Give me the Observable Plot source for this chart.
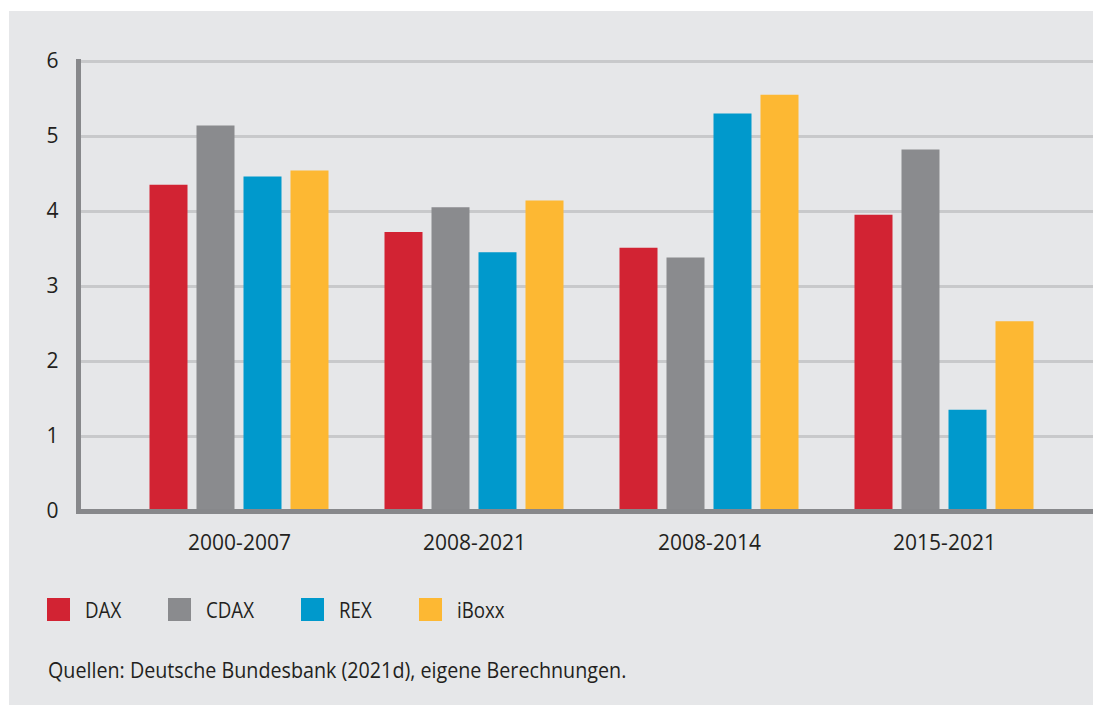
<!DOCTYPE html>
<html>
<head>
<meta charset="utf-8">
<script src="https://cdn.jsdelivr.net/npm/d3@7"></script>
<script src="https://cdn.jsdelivr.net/npm/@observablehq/plot@0.6"></script>
<style>
  html, body { margin: 0; padding: 0; background: #ffffff; }
  #wrap { position: absolute; left: 9px; top: 11px; width: 1084px; height: 694px; background: #e6e7e9; overflow: hidden; }
  #chart { position: absolute; left: 0; top: 0; }
  #legend { position: absolute; left: 38px; top: 584px; display: flex; align-items: center; gap: 47px;
            font-family: "Open Sans", sans-serif; font-size: 21.5px; color: #231f20; }
  .item { display: flex; align-items: center; }
  .sw { width: 23px; height: 23px; margin-right: 15px; flex: none; }
  .lbl { display: inline-block; white-space: nowrap; overflow: visible; }
  .lbl > span { display: inline-block; transform-origin: 0 50%; white-space: nowrap; }
  #caption { position: absolute; left: 39px; top: 643px; white-space: nowrap;
             font-family: "Open Sans", sans-serif; font-size: 22.5px; color: #231f20;
             transform-origin: 0 50%; }
</style>
</head>
<body>
<div id="wrap">
  <div id="chart"></div>
  <div id="legend"></div>
  <div id="caption">Quellen: Deutsche Bundesbank (2021d), eigene Berechnungen.</div>
</div>
<script>
const periods = ["2000-2007", "2008-2021", "2008-2014", "2015-2021"];
const seriesNames = ["DAX", "CDAX", "REX", "iBoxx"];
const daxValues = [4.35, 3.72, 3.51, 3.95];
const cdaxValues = [5.14, 4.05, 3.38, 4.82];
const rexValues = [4.46, 3.45, 5.30, 1.35];
const iboxxValues = [4.54, 4.14, 5.55, 2.53];
const seriesColors = ["#d22333", "#8a8b8e", "#0099cc", "#fdb833"];
const yTicks = [0, 1, 2, 3, 4, 5, 6];

const valuesBySeries = [daxValues, cdaxValues, rexValues, iboxxValues];
const rows = seriesNames.flatMap((s, i) => periods.map((p, j) => ({period: p, series: s, value: valuesBySeries[i][j]})));

const barStep = 47;
const bars = seriesNames.map((s, i) =>
  Plot.barY(rows.filter(d => d.series === s), {x: "period", y: "value", fill: "series", dx: (i - 1.5) * barStep})
);

const chart = Plot.plot({
  width: 1084,
  height: 560,
  marginLeft: 69,
  marginRight: 0,
  marginTop: 50,
  marginBottom: 60,
  style: {background: "transparent", fontFamily: "'Open Sans', sans-serif", color: "#231f20"},
  x: {domain: periods, range: [210.5, 955], paddingInner: 0.8386, paddingOuter: 0, label: null},
  y: {domain: [0, 6], label: null},
  color: {domain: seriesNames, range: seriesColors},
  marks: [
    Plot.gridY(yTicks, {stroke: "#c8c9cb", strokeWidth: 3, strokeOpacity: 1}),
    ...bars,
    Plot.ruleY([0], {stroke: "#87888b", strokeWidth: 5}),
    Plot.frame({anchor: "left", stroke: "#87888b", strokeWidth: 5}),
    Plot.axisY(yTicks, {tickSize: 0, tickPadding: 20, label: null, fontSize: 21, tickFormat: d3.format("d")}),
    Plot.axisX({tickSize: 0, tickPadding: 24, label: null, fontSize: 21})
  ]
});
document.getElementById("chart").appendChild(chart);

// condensed look: scale text horizontally
const squeeze = 0.87;
const legend = document.getElementById("legend");
seriesNames.forEach((s, i) => {
  const item = document.createElement("div");
  item.className = "item";
  const sw = document.createElement("span");
  sw.className = "sw";
  sw.style.background = seriesColors[i];
  const outer = document.createElement("span");
  outer.className = "lbl";
  const inner = document.createElement("span");
  inner.textContent = s;
  outer.appendChild(inner);
  item.appendChild(sw);
  item.appendChild(outer);
  legend.appendChild(item);
  const w = inner.getBoundingClientRect().width;
  inner.style.transform = `scaleX(${squeeze})`;
  outer.style.width = (w * squeeze) + "px";
});
const cap = document.getElementById("caption");
cap.style.transform = "scaleX(0.876)";
</script>
</body>
</html>
